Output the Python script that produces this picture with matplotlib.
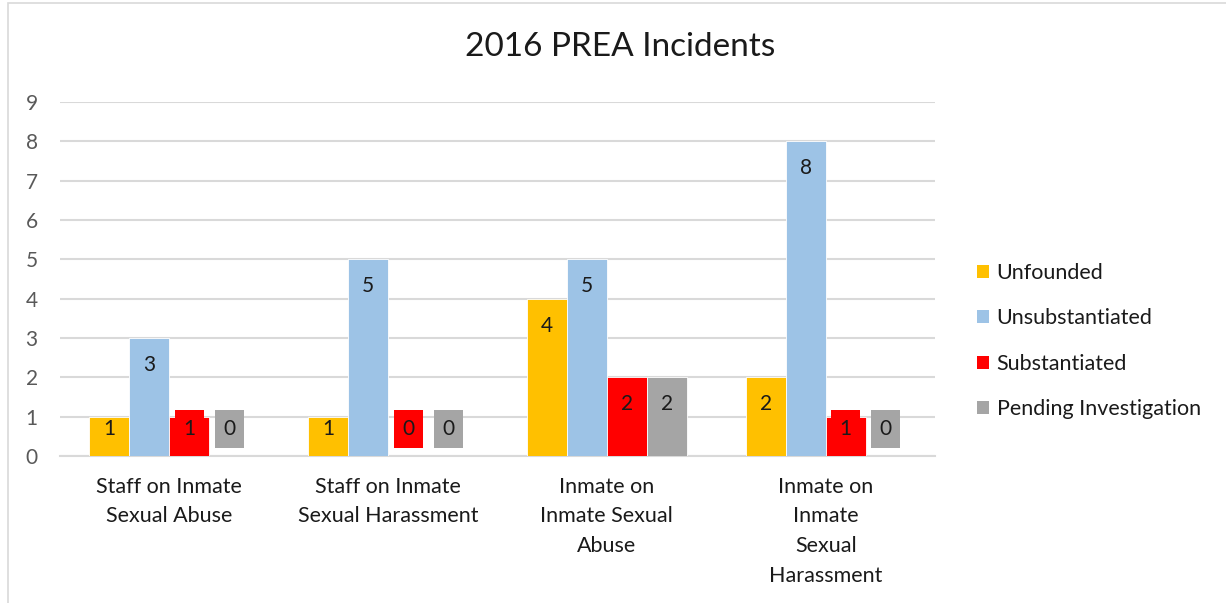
import matplotlib
matplotlib.use("Agg")
import matplotlib.pyplot as plt
from matplotlib.patches import Rectangle, Patch
import numpy as np

categories = ["Staff on Inmate\nSexual Abuse", "Staff on Inmate\nSexual Harassment",
              "Inmate on\nInmate Sexual\nAbuse", "Inmate on\nInmate\nSexual\nHarassment"]
series_names = ["Unfounded", "Unsubstantiated", "Substantiated", "Pending Investigation"]
unfounded = [1, 1, 4, 2]
unsubstantiated = [3, 5, 5, 8]
substantiated = [1, 0, 2, 1]
pending = [0, 0, 2, 0]
colors = ["#FFC000", "#9DC3E6", "#FF0000", "#A5A5A5"]
label_fill = [False, False, True, True]

FONT = "Lato"
plt.rcParams["font.family"] = [FONT, "DejaVu Sans"]
FS = 15

fig = plt.figure(figsize=(12.26, 6.03), dpi=100)
W, H = 1226, 603
ax = fig.add_axes([60 / W, 1 - 456 / H, (935 - 60) / W, (456 - 102) / H])

# chart border
fig.patches.append(Rectangle((8 / W, -0.1), 1.5, 1 - 3 / H + 0.1, transform=fig.transFigure,
                             fill=False, edgecolor="#D9D9D9", linewidth=1.2))

data = [unfounded, unsubstantiated, substantiated, pending]
x = np.arange(len(categories))
bw = 0.183
unit_px = (456 - 102) / 9.0
box_w = 29 / 218.75
box_lo, box_hi = 0.21, 1.17
for i, (vals, c) in enumerate(zip(data, colors)):
    xs = x + (i - 1.5) * bw
    ax.bar(xs, vals, width=bw, color=c, edgecolor="white", linewidth=0.6, zorder=3,
           label=series_names[i])
    for xi, v in zip(xs, vals):
        yc = max(v - 27 / unit_px, (box_lo + box_hi) / 2)
        if label_fill[i] and v < 2:
            ax.add_patch(Rectangle((xi - box_w / 2, box_lo), box_w, box_hi - box_lo,
                                   facecolor=c, edgecolor="none", zorder=3.5))
        ax.text(xi, yc, str(v), ha="center", va="center", fontsize=FS,
                color="#1a1a1a", zorder=4)

ax.set_xlim(-0.5, 3.5)
ax.set_ylim(0, 9)
ax.set_yticks(range(10))
ax.set_xticks(x)
ax.set_xticklabels(categories, fontsize=15.5, color="#1a1a1a", linespacing=1.6)
ax.tick_params(axis="both", length=0, labelcolor="#595959")
ax.tick_params(axis="x", pad=15, labelcolor="#1a1a1a")
ax.tick_params(axis="y", pad=16, labelsize=FS)
ax.grid(axis="y", color="#D9D9D9", linewidth=1.5, zorder=0)
for s in ["top", "right", "left"]:
    ax.spines[s].set_visible(False)
ax.spines["bottom"].set_color("#D9D9D9")
ax.spines["bottom"].set_linewidth(1.5)

fig.text(620 / W, 1 - 47 / H, "2016 PREA Incidents", ha="center", va="center",
         fontsize=24, color="#1a1a1a")

handles = [Patch(facecolor=c, edgecolor="none") for c in colors]
fig.legend(handles, series_names, loc="center left", bbox_to_anchor=(958 / W, 1 - 341 / H),
           frameon=False, fontsize=15.5, handlelength=0.55, handleheight=0.55,
           handletextpad=0.35, labelspacing=1.18, labelcolor="#1a1a1a")

fig.savefig("out.png", dpi=100)
